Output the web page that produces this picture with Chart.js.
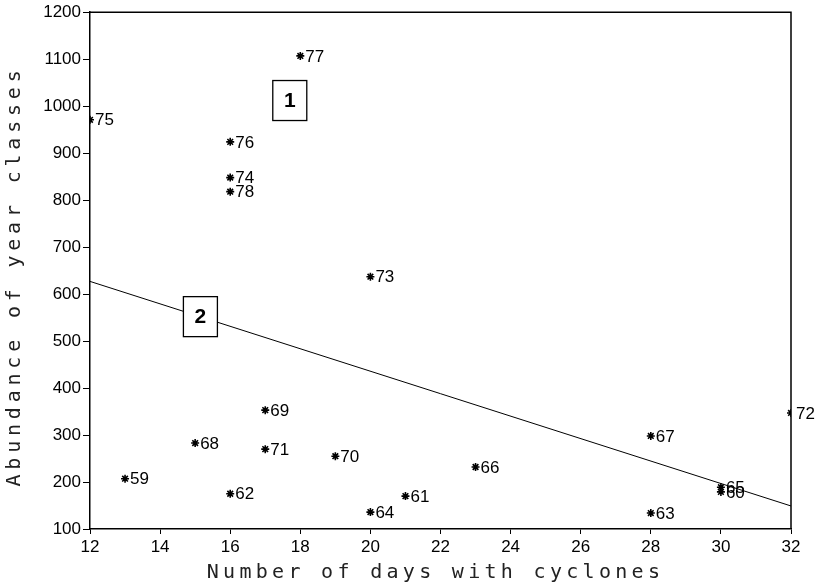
<!DOCTYPE html>
<html>
<head>
<meta charset="utf-8">
<script src="https://cdn.jsdelivr.net/npm/chart.js@4/dist/chart.umd.min.js"></script>
<style>
  html, body { margin: 0; padding: 0; background: #fff; }
  #wrap { width: 822px; height: 587px; }
</style>
</head>
<body>
<div id="wrap"><canvas id="chart" width="822" height="587"></canvas></div>
<script>
// year classes (labels next to each star)
const years = ['59', '60', '61', '62', '63', '64', '65', '66', '67', '68',
               '69', '70', '71', '72', '73', '74', '75', '76', '77', '78'];
// number of days with cyclones
const days = [13, 30, 21, 16, 28, 20, 30, 23, 28, 15,
              17, 19, 17, 32, 20, 16, 12, 16, 18, 16];
// abundance of year classes
const abundance = [207, 179, 170, 175, 134, 136, 189, 232, 298, 283,
                   353, 255, 270, 347, 637, 848, 971, 924, 1107, 818];

// regression line (end points)
const fitX = [12, 32];
const fitY = [627, 149];

// boxed group labels, in data units
const boxText = ['1', '2'];
const boxX = [17.7, 15.15];
const boxY = [1012, 552];

const xTitle = 'Number of days with cyclones';
const yTitle = 'Abundance of year classes';

const tickFont = { family: 'Liberation Sans, Arial, sans-serif', size: 17 };

const extras = {
    id: 'extras',
    afterDraw(chart) {
        const ctx = chart.ctx;
        const a = chart.chartArea;
        const xs = chart.scales.x, ys = chart.scales.y;
        ctx.save();

        // top and right frame
        ctx.strokeStyle = '#000';
        ctx.lineWidth = 1.5;
        ctx.beginPath();
        ctx.moveTo(a.left, a.top);
        ctx.lineTo(a.right, a.top);
        ctx.lineTo(a.right, a.bottom);
        ctx.stroke();

        // year labels beside the stars
        ctx.fillStyle = '#000';
        ctx.font = '17px Liberation Sans, Arial, sans-serif';
        ctx.textAlign = 'left';
        ctx.textBaseline = 'middle';
        chart.getDatasetMeta(0).data.forEach(function (pt, i) {
            ctx.fillText(years[i], pt.x + 5, pt.y + 1);
        });

        // boxed labels
        ctx.font = 'bold 21px Liberation Sans, Arial, sans-serif';
        ctx.textAlign = 'center';
        ctx.lineWidth = 1.3;
        for (let i = 0; i < boxText.length; i++) {
            const cx = xs.getPixelForValue(boxX[i]);
            const cy = ys.getPixelForValue(boxY[i]);
            ctx.fillStyle = '#fff';
            ctx.fillRect(cx - 17, cy - 20, 34, 40);
            ctx.strokeRect(cx - 17, cy - 20, 34, 40);
            ctx.fillStyle = '#000';
            ctx.fillText(boxText[i], cx, cy + 1);
        }

        // axis titles, spaced out like the plotter lettering
        ctx.font = '20px DejaVu Sans Mono, monospace';
        ctx.fillStyle = '#222';
        ctx.letterSpacing = '4.3px';
        ctx.textAlign = 'center';
        ctx.textBaseline = 'middle';
        ctx.fillText(xTitle, (a.left + a.right) / 2 - 5, 573);

        ctx.translate(15, (65 + 487) / 2);
        ctx.rotate(-Math.PI / 2);
        ctx.letterSpacing = '4.8px';
        ctx.fillText(yTitle, 0, 0);
        ctx.restore();
    }
};

new Chart(document.getElementById('chart'), {
    type: 'scatter',
    data: {
        datasets: [{
            label: 'Year classes',
            data: days.map((d, i) => ({ x: d, y: abundance[i] })),
            pointStyle: 'star',
            radius: 4,
            borderColor: '#000',
            borderWidth: 1.6,
            backgroundColor: '#000'
        }, {
            type: 'line',
            label: 'Fit',
            data: fitX.map((x, i) => ({ x: x, y: fitY[i] })),
            borderColor: '#000',
            borderWidth: 1,
            pointRadius: 0,
            fill: false
        }]
    },
    options: {
        responsive: false,
        animation: false,
        layout: { padding: { top: 12, right: 31, left: 0, bottom: 0 } },
        plugins: {
            legend: { display: false },
            tooltip: { enabled: false }
        },
        scales: {
            x: {
                type: 'linear',
                min: 12,
                max: 32,
                afterFit(scale) { scale.height = 58; },
                border: { color: '#000', width: 1.5 },
                grid: { drawOnChartArea: false, tickLength: 5, color: '#000' },
                ticks: { stepSize: 2, color: '#000', font: tickFont, padding: 3,
                         callback: v => String(v) }
            },
            y: {
                type: 'linear',
                min: 100,
                max: 1200,
                afterFit(scale) { scale.width = 90; },
                border: { color: '#000', width: 1.5 },
                grid: { drawOnChartArea: false, tickLength: 7, color: '#000' },
                ticks: { stepSize: 100, color: '#000', font: tickFont, padding: 2,
                         callback: v => String(v) }
            }
        }
    },
    plugins: [extras]
});
</script>
</body>
</html>
